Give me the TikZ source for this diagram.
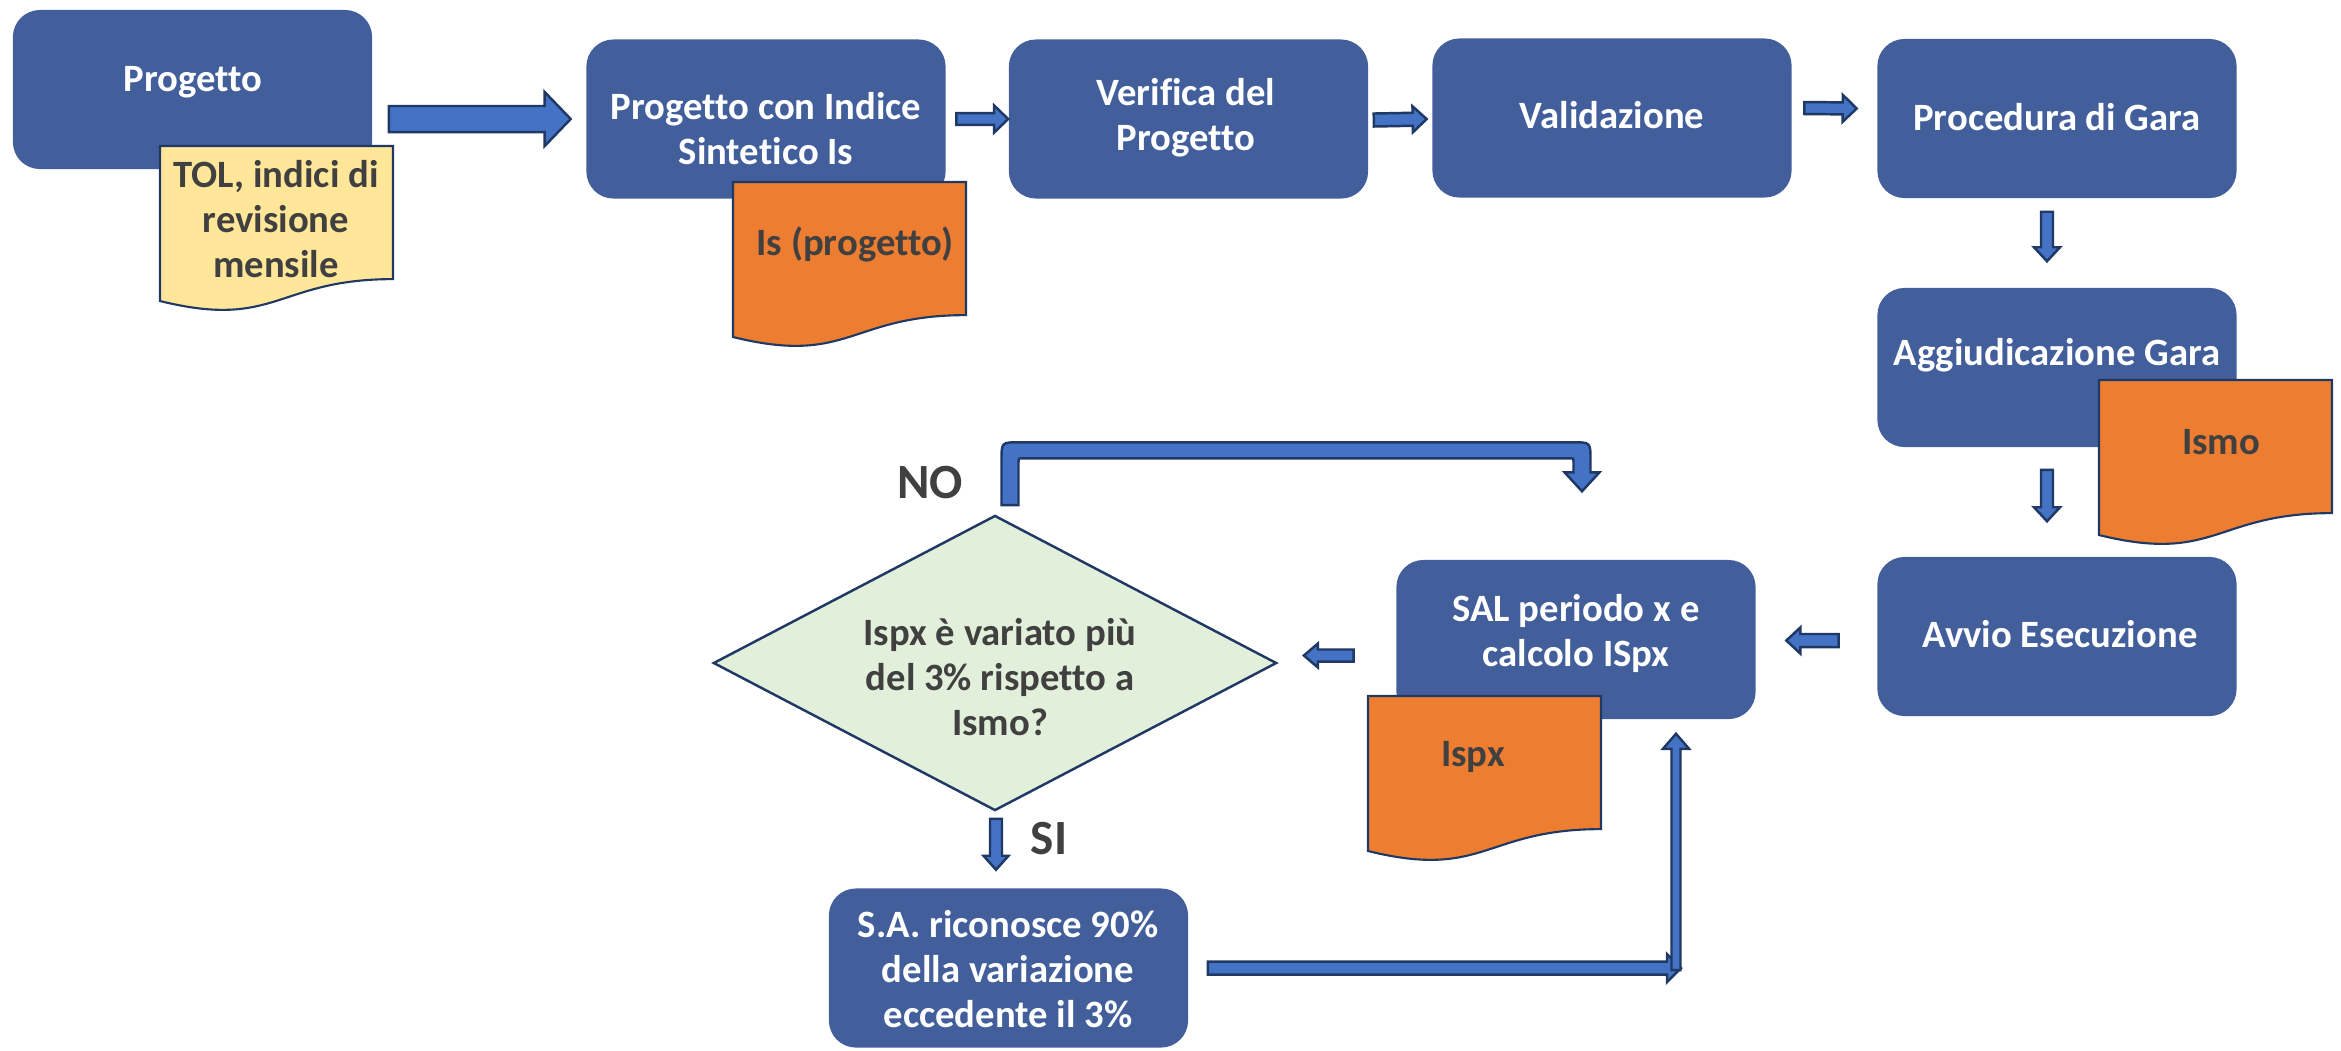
\documentclass[tikz,border=0pt]{standalone}
\usepackage{fontspec}
\setmainfont{Carlito}[Ligatures=NoCommon]
\usetikzlibrary{calc,shapes.geometric}
\definecolor{boxblue}{RGB}{66,95,156}
\definecolor{arrblue}{RGB}{68,114,196}
\definecolor{arrline}{RGB}{32,56,100}
\definecolor{docorange}{RGB}{237,125,49}
\definecolor{docyellow}{RGB}{255,230,153}
\definecolor{diagreen}{RGB}{226,239,218}
\definecolor{txtgray}{RGB}{64,64,64}

% block arrow: start, end, half shaft, half head, head length
\newcommand{\blockarrow}[5]{%
  \coordinate (ba) at ($(#2)!#5!(#1)$);
  \draw[barrow] ($(#1)!#3!90:(#2)$) -- ($(ba)!#3!-90:(#1)$) -- ($(ba)!#4!-90:(#1)$)
    -- (#2) -- ($(ba)!#4!90:(#1)$) -- ($(ba)!#3!90:(#1)$) -- ($(#1)!#3!-90:(#2)$) -- cycle;
}
% document with wavy bottom: top left corner, colour
\newcommand{\docshape}[2]{%
  \draw[docline, fill=#2, shift={(#1)}] (0,0) -- (233,0) -- (233,133.1)
    .. controls (116.5,133.1) and (116.5,183.8) .. (0,155) -- cycle;
}

\begin{document}
\begin{tikzpicture}[x=0.01cm,y=-0.01cm,
  stepbox/.style={rectangle, rounded corners=0.27cm, fill=boxblue, minimum width=3.59cm, minimum height=1.59cm, inner sep=0pt},
  boxtext/.style={text=white, align=center, inner sep=0pt, font=\fontsize{11}{12.8}\selectfont\bfseries},
  doctext/.style={boxtext, text=txtgray},
  bigtext/.style={doctext, font=\fontsize{14}{16}\selectfont\bfseries},
  docline/.style={draw=arrline, line width=0.6pt},
  barrow/.style={draw=arrline, fill=arrblue, line width=0.7pt, line join=miter}]
\useasboundingbox (0,0) rectangle (2341,1050);

% boxes
\node[stepbox] (prog) at (192.5,89.5) {};
\node[stepbox] (isbox) at (766,119) {};
\node[stepbox] (verif) at (1188.5,119) {};
\node[stepbox] (valid) at (1612,118) {};
\node[stepbox] (gara) at (2057,118.5) {};
\node[stepbox] (aggiud) at (2057,367.5) {};
\node[stepbox] (avvio) at (2057,636.5) {};
\node[stepbox] (sal) at (1576,639.5) {};
\node[stepbox] (sa) at (1008.5,968) {};
\node[diamond, draw=arrline, line width=0.7pt, fill=diagreen, minimum width=5.63cm, minimum height=2.95cm, inner sep=0pt] (dia) at (995,663) {};

% documents
\coordinate (yeldoc) at (160,146);
\coordinate (isdoc) at (733,182);
\coordinate (ismodoc) at (2099,380);
\coordinate (ispxdoc) at (1368,696);
\docshape{yeldoc}{docyellow}
\docshape{isdoc}{docorange}
\docshape{ismodoc}{docorange}
\docshape{ispxdoc}{docorange}

% texts
\node[boxtext] (prog-t) at (193,82) {Progetto};
\node[boxtext] (isbox-t) at (766,129) {Progetto con Indice\\Sintetico Is};
\node[boxtext] (verif-t) at (1186,118) {Verifica del\\Progetto};
\node[boxtext] (valid-t) at (1612,115) {Validazione};
\node[boxtext] (gara-t) at (2057,117) {Procedura di Gara};
\node[boxtext] (aggiud-t) at (2057,355) {Aggiudicazione Gara};
\node[boxtext] (avvio-t) at (2060,634) {Avvio Esecuzione};
\node[boxtext] (sal-t) at (1576,633) {SAL periodo x e\\calcolo ISpx};
\node[boxtext] (sa-t) at (1008,969) {S.A. riconosce 90\%\\della variazione\\eccedente il 3\%};
\node[doctext] (dia-t) at (1000,677) {Ispx è variato più\\del 3\% rispetto a\\Ismo?};
\node[doctext] (yel-t) at (276,219) {TOL, indici di\\revisione\\mensile};
\node[doctext] (is-t) at (855,244) {Is (progetto)};
\node[doctext] (ismo-t) at (2221,442) {Ismo};
\node[doctext] (ispx-t) at (1473,757) {Ispx};
\node[bigtext] (no-t) at (930,483) {NO};
\node[bigtext] (si-t) at (1049,839) {SI};

% arrow ends
\coordinate (a1s) at ($(prog.east |- isbox.west)+(16,0)$);
\coordinate (a1e) at ($(isbox.west)+(-15,0)$);
\coordinate (a2s) at ($(isbox.east)+(10,0)$);
\coordinate (a2e) at (verif.west);
\coordinate (a3s) at ($(verif.east)+(5,1)$);
\coordinate (a3e) at ($(valid.west)+(-5,1)$);
\coordinate (a4s) at ($(valid.east)+(12,-10)$);
\coordinate (a4e) at ($(gara.west)+(-20,-10)$);
\coordinate (a5s) at ($(gara.south)+(-10,13)$);
\coordinate (a5e) at ($(aggiud.north)+(-10,-26)$);
\coordinate (a6s) at ($(aggiud.south)+(-10,22)$);
\coordinate (a6e) at ($(avvio.north)+(-10,-35)$);
\coordinate (a7s) at ($(avvio.west)+(-38,4)$);
\coordinate (a7e) at ($(sal.east |- a7s)+(30,0)$);
\coordinate (a8s) at ($(sal.west)+(-42,16)$);
\coordinate (a8e) at ($(dia.east |- a8s)+(26,0)$);
\coordinate (sis) at ($(dia.south)+(1,7)$);
\coordinate (sie) at ($(sis |- sa.north)+(0,-18)$);
\coordinate (a10e) at ($(sal.south)+(100,14)$);
\coordinate (a9s) at ($(sa.east)+(19,0)$);
\coordinate (a9e) at ($(a9s -| a10e)+(5,0)$);
\coordinate (a10s) at ($(a9s -| a10e)+(0,2)$);
\coordinate (nos) at ($(dia.north)+(15,-9)$);
\coordinate (noe) at ($(sal.north)+(6,-68)$);
\coordinate (nocorner) at (nos |- noe);

% arrows
\blockarrow{a1s}{a1e}{0.13cm}{0.27cm}{0.26cm}
\blockarrow{a2s}{a2e}{0.058cm}{0.135cm}{0.14cm}
\blockarrow{a3s}{a3e}{0.065cm}{0.13cm}{0.14cm}
\blockarrow{a4s}{a4e}{0.06cm}{0.135cm}{0.14cm}
\blockarrow{a5s}{a5e}{0.06cm}{0.13cm}{0.14cm}
\blockarrow{a6s}{a6e}{0.06cm}{0.13cm}{0.14cm}
\blockarrow{a7s}{a7e}{0.065cm}{0.13cm}{0.14cm}
\blockarrow{a8s}{a8e}{0.06cm}{0.12cm}{0.14cm}
\blockarrow{sis}{sie}{0.06cm}{0.125cm}{0.14cm}
\blockarrow{a9s}{a9e}{0.065cm}{0.14cm}{0.14cm}
\blockarrow{a10s}{a10e}{0.045cm}{0.13cm}{0.15cm}

% NO loop
\draw[barrow] ($(nos)+(-8.5,0)$) -- ($(nocorner)+(-8.5,-31)$)
  .. controls ($(nocorner)+(-8.5,-49)$) .. ($(nocorner)+(9.5,-49)$)
  -- ($(noe)+(-9.5,-49)$) .. controls ($(noe)+(8.5,-49)$) .. ($(noe)+(8.5,-31)$)
  -- ($(noe)+(8.5,-19)$) -- ($(noe)+(17.5,-19)$) -- (noe) -- ($(noe)+(-17.5,-19)$)
  -- ($(noe)+(-8.5,-19)$) -- ($(noe)+(-8.5,-29)$)
  .. controls ($(noe)+(-8.5,-33)$) .. ($(noe)+(-12.5,-33)$)
  -- ($(nocorner)+(12.5,-33)$) .. controls ($(nocorner)+(8.5,-33)$) .. ($(nocorner)+(8.5,-29)$)
  -- ($(nos)+(8.5,0)$) -- cycle;
\end{tikzpicture}
\end{document}
